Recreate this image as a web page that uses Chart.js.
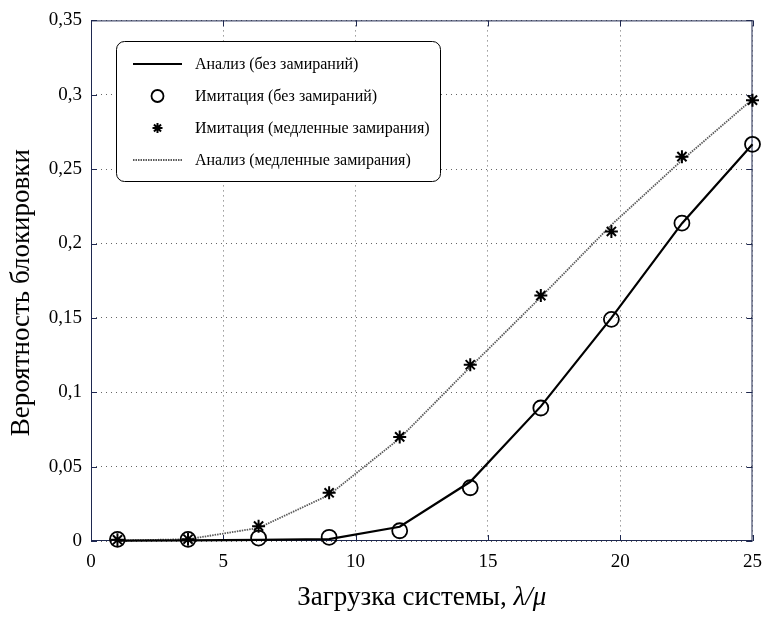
<!DOCTYPE html>
<html>
<head>
<meta charset="utf-8">
<script src="https://cdn.jsdelivr.net/npm/chart.js@4/dist/chart.umd.min.js"></script>
<style>
  html, body { margin: 0; padding: 0; background: #ffffff; }
  #wrap { width: 772px; height: 617px; }
</style>
</head>
<body>
<div id="wrap"><canvas id="c" width="772" height="617"></canvas></div>
<script>
// System load λ/μ
const load = [1, 3.667, 6.333, 9, 11.667, 14.333, 17, 19.667, 22.333, 25];
// Blocking probability
const analysisNoFading   = [0.0003, 0.0004, 0.0007, 0.0013, 0.0096, 0.0398, 0.0905, 0.1500, 0.2135, 0.2667];
const simNoFading        = [0.0011, 0.0011, 0.0020, 0.0025, 0.0069, 0.0358, 0.0894, 0.1490, 0.2137, 0.2667];
const simSlowFading      = [0.0008, 0.0012, 0.0100, 0.0324, 0.0700, 0.1185, 0.1650, 0.2081, 0.2584, 0.2964];
const analysisSlowFading = [0.0003, 0.0012, 0.0088, 0.0310, 0.0690, 0.1170, 0.1640, 0.2125, 0.2560, 0.2970];

const seriesNames = [
  'Анализ (без замираний)',
  'Имитация (без замираний)',
  'Имитация (медленные замирания)',
  'Анализ (медленные замирания)'
];

const xTicks = [0, 5, 10, 15, 20, 25];
const xTickLabels = ['0', '5', '10', '15', '20', '25'];
const yTicks = [0, 0.05, 0.1, 0.15, 0.2, 0.25, 0.3, 0.35];
const yTickLabels = ['0', '0,05', '0,1', '0,15', '0,2', '0,25', '0,3', '0,35'];

const yTitle = 'Вероятность блокировки';
const xTitleText = 'Загрузка системы, ';
const xTitleSymbol = 'λ/μ';

const SERIF = '"Liberation Serif", "Times New Roman", serif';
const AXIS_COLOR = '#1e2850';

const pairs = ys => load.map((x, i) => ({ x, y: ys[i] }));

// Box around the plotting area with inward tick marks on all four sides
const framePlugin = {
  id: 'frame',
  beforeDatasetsDraw(chart) {
    const { ctx, chartArea: a, scales } = chart;
    ctx.save();
    ctx.strokeStyle = AXIS_COLOR;
    ctx.lineWidth = 1;
    ctx.setLineDash([]);
    ctx.strokeRect(a.left + 0.5, a.top + 0.5, a.right - a.left - 1, a.bottom - a.top - 1);
    const len = 6;
    ctx.beginPath();
    xTicks.forEach(v => {
      const px = Math.round(scales.x.getPixelForValue(v)) + 0.5;
      ctx.moveTo(px, a.bottom); ctx.lineTo(px, a.bottom - len);
      ctx.moveTo(px, a.top); ctx.lineTo(px, a.top + len);
    });
    yTicks.forEach(v => {
      const py = Math.round(scales.y.getPixelForValue(v)) + 0.5;
      ctx.moveTo(a.left, py); ctx.lineTo(a.left + len, py);
      ctx.moveTo(a.right, py); ctx.lineTo(a.right - len, py);
    });
    ctx.stroke();
    ctx.restore();
  }
};

// Axis titles: x title with the italic λ/μ, rotated y title beside the tick labels
const axisTitlesPlugin = {
  id: 'axisTitles',
  afterDraw(chart) {
    const { ctx, chartArea: a } = chart;
    ctx.save();
    const fNormal = '27px ' + SERIF;
    const fItalic = 'italic 27px ' + SERIF;
    ctx.fillStyle = '#000';
    ctx.textBaseline = 'middle';

    ctx.font = fNormal;
    const w1 = ctx.measureText(xTitleText).width;
    ctx.font = fItalic;
    const w2 = ctx.measureText(xTitleSymbol).width;
    const x0 = (a.left + a.right) / 2 - (w1 + w2) / 2;
    const xy = 598;
    ctx.textAlign = 'left';
    ctx.font = fNormal;
    ctx.fillText(xTitleText, x0, xy);
    ctx.font = fItalic;
    ctx.fillText(xTitleSymbol, x0 + w1, xy);

    ctx.translate(22, (a.top + a.bottom) / 2 + 12);
    ctx.rotate(-Math.PI / 2);
    ctx.textAlign = 'center';
    ctx.font = fNormal;
    ctx.fillText(yTitle, 0, 0);
    ctx.restore();
  }
};

// Legend in a rounded box at the upper left of the plot
const boxLegendPlugin = {
  id: 'boxLegend',
  afterDatasetsDraw(chart) {
    const { ctx } = chart;
    const left = 116, top = 41, bottom = 181;
    const firstRow = 64, rowStep = 32;
    const sampleL = 133, sampleR = 182, textX = 195;
    ctx.save();
    ctx.font = '16px ' + SERIF;
    let maxW = 0;
    chart.data.datasets.forEach(ds => { maxW = Math.max(maxW, ctx.measureText(ds.label).width); });
    const right = Math.round(textX + maxW + 10);
    ctx.beginPath();
    ctx.roundRect(left + 0.5, top + 0.5, right - left, bottom - top, 8);
    ctx.fillStyle = '#ffffff';
    ctx.fill();
    ctx.strokeStyle = '#000';
    ctx.lineWidth = 1;
    ctx.stroke();

    chart.data.datasets.forEach((ds, i) => {
      const y = firstRow + i * rowStep;
      if (ds.showLine !== false) {
        ctx.save();
        ctx.strokeStyle = ds.borderColor;
        ctx.lineWidth = ds.borderWidth;
        ctx.setLineDash(ds.borderDash || []);
        ctx.beginPath();
        ctx.moveTo(sampleL, y);
        ctx.lineTo(sampleR, y);
        ctx.stroke();
        ctx.restore();
      } else {
        ctx.save();
        ctx.strokeStyle = ds.pointBorderColor;
        ctx.fillStyle = 'rgba(0,0,0,0)';
        ctx.lineWidth = ds.pointBorderWidth;
        Chart.helpers.drawPoint(ctx, {
          pointStyle: ds.pointStyle,
          radius: ds.legendRadius,
          rotation: 0,
          borderWidth: ds.pointBorderWidth
        }, (sampleL + sampleR) / 2, y);
        ctx.restore();
      }
      ctx.fillStyle = '#000';
      ctx.textBaseline = 'middle';
      ctx.textAlign = 'left';
      ctx.fillText(ds.label, textX, y + 1);
    });
    ctx.restore();
  }
};

new Chart(document.getElementById('c'), {
  type: 'scatter',
  data: {
    datasets: [
      {
        label: seriesNames[0],
        data: pairs(analysisNoFading),
        showLine: true,
        borderColor: '#000000',
        borderWidth: 2.2,
        pointRadius: 0,
        tension: 0,
        clip: false
      },
      {
        label: seriesNames[1],
        data: pairs(simNoFading),
        showLine: false,
        pointStyle: 'circle',
        pointRadius: 7.5,
        legendRadius: 6,
        pointBorderWidth: 1.8,
        pointBorderColor: '#000000',
        pointBackgroundColor: 'rgba(0,0,0,0)',
        clip: false
      },
      {
        label: seriesNames[2],
        data: pairs(simSlowFading),
        showLine: false,
        pointStyle: 'star',
        pointRadius: 6.5,
        legendRadius: 5,
        pointBorderWidth: 2,
        pointBorderColor: '#000000',
        pointBackgroundColor: 'rgba(0,0,0,0)',
        clip: false
      },
      {
        label: seriesNames[3],
        data: pairs(analysisSlowFading),
        showLine: true,
        borderColor: '#5a5a5a',
        borderWidth: 1.8,
        borderDash: [1.5, 1],
        pointRadius: 0,
        tension: 0,
        clip: false
      }
    ]
  },
  options: {
    responsive: false,
    animation: false,
    devicePixelRatio: 1,
    layout: { padding: { top: 19, right: 15, left: 0, bottom: 0 } },
    plugins: {
      legend: { display: false },
      tooltip: { enabled: false }
    },
    scales: {
      x: {
        type: 'linear',
        min: 0, max: 25,
        afterBuildTicks: s => { s.ticks = xTicks.map(v => ({ value: v })); },
        afterFit: s => { s.height = 76; },
        ticks: {
          callback: (v, i) => xTickLabels[i],
          font: { family: SERIF, size: 19 },
          color: '#000',
          padding: 10,
          maxRotation: 0
        },
        grid: { color: '#666666', lineWidth: 1, drawTicks: false },
        border: { display: false, dash: [1, 4] },
        title: { display: false }
      },
      y: {
        type: 'linear',
        min: 0, max: 0.35,
        afterBuildTicks: s => { s.ticks = yTicks.map(v => ({ value: v })); },
        afterFit: s => { s.width = 91; },
        ticks: {
          callback: (v, i) => yTickLabels[i],
          font: { family: SERIF, size: 19 },
          color: '#000',
          padding: 9
        },
        grid: { color: '#666666', lineWidth: 1, drawTicks: false },
        border: { display: false, dash: [1, 4] },
        title: { display: false }
      }
    }
  },
  plugins: [framePlugin, boxLegendPlugin, axisTitlesPlugin]
});
</script>
</body>
</html>
